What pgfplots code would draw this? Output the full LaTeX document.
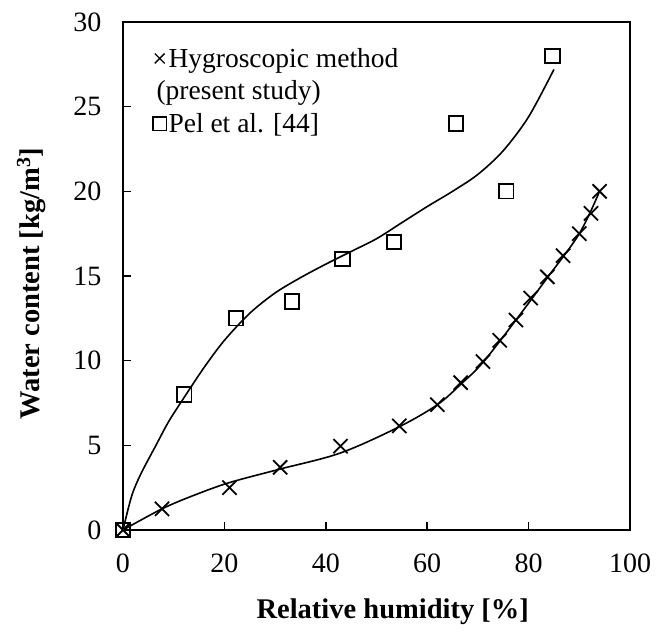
\documentclass[border=0pt]{standalone}
\usepackage{fontspec}
\setmainfont{Liberation Serif}
\usepackage{pgfplots}
\pgfplotsset{compat=1.18}
\begin{document}
\begin{tikzpicture}
\begin{axis}[
  scale only axis,
  width=507pt, height=508pt,
  xmin=0, xmax=100, ymin=0, ymax=30,
  xtick={0,20,40,60,80,100},
  ytick={0,5,10,15,20,25,30},
  tick align=inside,
  major tick length=8pt,
  xtick pos=bottom, ytick pos=left,
  axis line style={line width=1.6pt},
  every tick/.style={line width=1.6pt, black},
  /pgf/number format/assume math mode=true,
  tick label style={font=\fontsize{28}{33}\selectfont},
  xticklabel style={yshift=-20pt},
  yticklabel style={xshift=-18pt},
  xlabel={\textbf{Relative humidity [\%]}},
  ylabel={\textbf{Water content [kg/m\textsuperscript{3}]}},
  label style={font=\fontsize{28.5}{33}\selectfont},
  xlabel style={at={(axis description cs:0.532,-0.161)}, anchor=center},
  ylabel style={at={(axis description cs:-0.181,0.485)}, anchor=center},
  legend style={draw=none, fill=none, at={(rel axis cs:0,1)}, anchor=north west,
    xshift=28pt, yshift=-24pt, font=\fontsize{27.5}{32}\selectfont,
    cells={anchor=west}, row sep=8pt, inner sep=0pt},
  legend cell align=left,
  clip=false,
]
% fitted curves
\addplot[black, line width=1.6pt, smooth, tension=0.55, forget plot] coordinates {
(0,0) (7.7,1.25) (14,2.05) (21,2.8) (31,3.6) (42.9,4.55)
(54.5,6.1) (62,7.4) (66.6,8.6) (71,9.9) (77.5,12.4)
(83.7,14.9) (90,17.5) (94,20.0)};
\addplot[black, line width=1.6pt, smooth, tension=0.5, forget plot] coordinates {
(0,0) (1.7,2.0) (3.5,3.3) (6.5,5.0) (9,6.4) (12,7.8) (16,9.6) (20,11.2)
(25,12.8) (30,14.0) (35,14.9) (40,15.7) (45,16.45) (50,17.2) (55,18.15)
(60,19.1) (65,20.0) (70,21.0) (75,22.4) (80,24.4) (85,27.2)};
% Pel et al.
\addplot[only marks, mark=square, mark size=7.2pt, mark options={line width=1.9pt, fill=none}, forget plot] coordinates {
(0,0) (12.1,8.0) (22.3,12.5) (33.3,13.5) (43.3,16.0) (53.5,17.0) (65.7,24.0) (75.6,20.0) (84.7,28.0)};
% hygroscopic method
\addplot[only marks, mark=x, mark size=10pt, mark options={line width=1.8pt}, forget plot] coordinates {
(0,0) (7.7,1.25) (21,2.5) (31,3.7) (42.9,4.95) (54.5,6.15) (62,7.4) (66.6,8.7)
(71,9.95) (74.3,11.2) (77.5,12.4) (80.4,13.7) (83.7,14.95) (86.8,16.2) (90,17.5)
(92.3,18.7) (94,20)};
\addlegendimage{only marks, mark=x, mark size=7pt, mark options={line width=1.4pt}}
\addlegendentry{Hygroscopic method}
\addlegendimage{empty legend}
\addlegendentry{\hspace{-12pt}(present study)}
\addlegendimage{only marks, mark=square, mark size=6.8pt, mark options={line width=1.4pt}}
\addlegendentry{Pel et al. [44]}
\end{axis}
\path (current axis.south west) ++(-123pt,-105pt);
\path (current axis.north east) ++(26pt,22pt);
\end{tikzpicture}
\end{document}
